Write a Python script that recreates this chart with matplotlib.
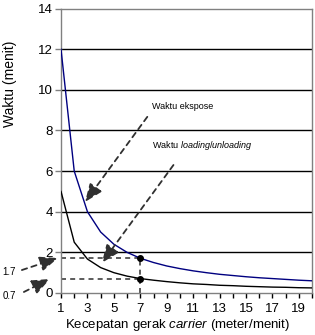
import matplotlib
matplotlib.use("Agg")
import matplotlib.pyplot as plt
import numpy as np

plt.rcParams['font.family'] = ['Liberation Sans', 'DejaVu Sans']
plt.rcParams['mathtext.fontset'] = 'custom'
plt.rcParams['mathtext.rm'] = 'Liberation Sans'
plt.rcParams['mathtext.it'] = 'Liberation Sans:italic'

# data: speed (m/min) vs time (min)
speed = np.arange(1, 21)
t_ekspose = [12.0, 6.0, 4.0, 3.0, 2.4, 2.0, 1.71, 1.5, 1.33, 1.2,
             1.09, 1.0, 0.92, 0.86, 0.8, 0.75, 0.71, 0.67, 0.63, 0.6]
t_loading = [5.0, 2.5, 1.67, 1.25, 1.0, 0.83, 0.71, 0.63, 0.56, 0.5,
             0.45, 0.42, 0.38, 0.36, 0.33, 0.31, 0.29, 0.28, 0.26, 0.25]
sel_speed = 7
sel_vals = [1.7, 0.7]
yticks = [0, 2, 4, 6, 8, 10, 12, 14]
xlabels = [1, 3, 5, 7, 9, 11, 13, 15, 17, 19]

fig = plt.figure(figsize=(3.15, 3.35), dpi=100)
ax = fig.add_axes([0.1937, 0.1254, 0.797, 0.849])

for y in yticks[1:-1]:
    ax.axhline(y, color='black', lw=1, zorder=1)

ax.plot(speed, t_ekspose, color='#000080', lw=1, zorder=3)
ax.plot(speed, t_loading, color='black', lw=1, zorder=3)

dash = dict(color='#404040', lw=1.2, ls=(0, (3, 2.5)), zorder=2)
for v in sel_vals:
    ax.plot([1, sel_speed], [v, v], **dash)
ax.plot([sel_speed, sel_speed], [0, max(sel_vals)], **dash)
ax.plot([sel_speed] * 2, sel_vals, 'o', color='black', ms=4, zorder=4)

ax.set_xlim(1, 20)
ax.set_ylim(0, 14)
ax.set_yticks(yticks)
ax.set_xticks(speed, minor=True)
ax.set_xticks(xlabels)
ax.tick_params(axis='y', direction='out', length=4, width=1, pad=2,
               labelsize=9.5, color='#808080')
ax.tick_params(axis='x', which='both', direction='out', length=3.5, width=1,
               pad=4, labelsize=9.5, color='black')
for s in ax.spines.values():
    s.set_color('#808080')
    s.set_linewidth(1)

ax.set_ylabel('Waktu (menit)', fontsize=10)
ax.yaxis.set_label_coords(-0.175, 0.735)
ax.set_xlabel(r'Kecepatan gerak $\it{carrier}$ (meter/menit)', fontsize=9.5)
ax.xaxis.set_label_coords(0.466, -0.086)

ax.text(7.9, 9.2, 'Waktu ekspose', fontsize=6.5, va='center', ha='left')
ax.text(7.9, 7.24, r'Waktu $\it{loading/unloading}$', fontsize=6.5,
        va='center', ha='left')

arrow = dict(arrowstyle='-|>,head_length=1.1,head_width=0.45',
             color='#303030', lw=1.3, ls=(0, (3, 2.5)),
             shrinkA=0, shrinkB=0)
ax.annotate('', xy=(2.82, 4.48), xytext=(7.53, 8.67), arrowprops=arrow,
            annotation_clip=False)
ax.annotate('', xy=(4.09, 1.48), xytext=(9.51, 6.3), arrowprops=arrow,
            annotation_clip=False)
ax.annotate('', xy=(0.77, 1.72), xytext=(-1.96, 1.13), arrowprops=arrow,
            annotation_clip=False)
ax.annotate('', xy=(0.16, 0.69), xytext=(-1.81, 0.05), arrowprops=arrow,
            annotation_clip=False)
ax.text(-2.95, 1.03, '1.7', fontsize=7, ha='center', va='center', clip_on=False)
ax.text(-2.95, -0.15, '0.7', fontsize=7, ha='center', va='center', clip_on=False)

fig.savefig('out.png', dpi=100)
